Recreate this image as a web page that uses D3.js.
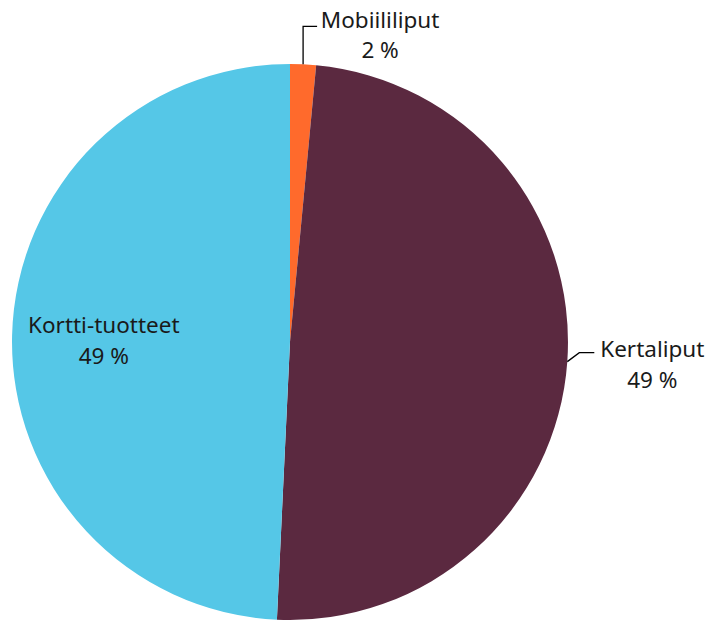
<!DOCTYPE html>
<html lang="fi">
<head>
<meta charset="UTF-8">
<title>Lipputuotteet</title>
<script src="https://d3js.org/d3.v7.min.js"></script>
<style>
  body { margin: 0; background: #fff; }
  svg text { font-family: "Noto Sans", "Liberation Sans", sans-serif; font-size: 22.5px; fill: #1a1a1a; }
</style>
</head>
<body>
<div id="chart"></div>
<script>
  // data
  const categories = ["Mobiililiput", "Kertaliput", "Kortti-tuotteet"];
  const shares = [1.5, 49.25, 49.25];
  const shareLabels = ["2 %", "49 %", "49 %"];
  const colors = ["#FF6A2C", "#5B2940", "#55C7E7"];

  const width = 710, height = 621;
  const cx = 290, cy = 342, radius = 278;

  const svg = d3.select("#chart").append("svg")
    .attr("width", width)
    .attr("height", height);

  const g = svg.append("g").attr("transform", `translate(${cx},${cy})`);

  const pie = d3.pie().sort(null).value(d => d.v);
  const arc = d3.arc().innerRadius(0).outerRadius(radius);

  const data = pie(categories.map((c, i) => ({ name: c, v: shares[i], lab: shareLabels[i], col: colors[i] })));

  g.selectAll("path")
    .data(data)
    .enter()
    .append("path")
    .attr("d", arc)
    .attr("fill", d => d.data.col);

  // point on the rim at the middle of a slice
  function rim(d, r) {
    const a = (d.startAngle + d.endAngle) / 2;
    return [r * Math.sin(a), -r * Math.cos(a)];
  }

  // Mobiililiput: leader up then right
  const m = data[0];
  const pm = rim(m, radius);
  g.append("path")
    .attr("d", `M${pm[0]},${pm[1]} V${pm[1] - 38} H${pm[0] + 14}`)
    .attr("fill", "none").attr("stroke", "#000").attr("stroke-width", 1.3);
  const tm = g.append("text").attr("text-anchor", "middle");
  tm.append("tspan").attr("x", pm[0] + 77).attr("y", pm[1] - 38 + 2).text(m.data.name);
  tm.append("tspan").attr("x", pm[0] + 77).attr("y", pm[1] - 38 + 32).text(m.data.lab);

  // Kertaliput: short leader out to the right
  const k = data[1];
  const pk = rim(k, radius);
  g.append("path")
    .attr("d", `M${pk[0]},${pk[1]} L${pk[0] + 12},${pk[1] - 9} H${pk[0] + 27}`)
    .attr("fill", "none").attr("stroke", "#000").attr("stroke-width", 1.3);
  const tk = g.append("text").attr("text-anchor", "middle");
  tk.append("tspan").attr("x", pk[0] + 85).attr("y", pk[1] - 5).text(k.data.name);
  tk.append("tspan").attr("x", pk[0] + 85).attr("y", pk[1] + 26).text(k.data.lab);

  // Kortti-tuotteet: label inside the slice
  const t = data[2];
  const pt = rim(t, radius * 0.67);
  const tt = g.append("text").attr("text-anchor", "middle");
  tt.append("tspan").attr("x", pt[0]).attr("y", pt[1] - 5).text(t.data.name);
  tt.append("tspan").attr("x", pt[0]).attr("y", pt[1] + 26).text(t.data.lab);
</script>
</body>
</html>
